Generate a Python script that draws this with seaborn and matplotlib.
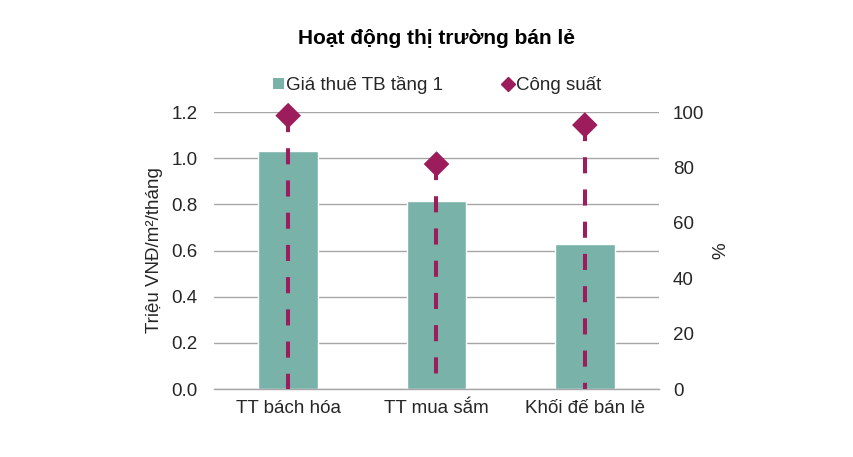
import matplotlib
matplotlib.use("Agg")
import matplotlib.pyplot as plt
import seaborn as sns
import pandas as pd
from matplotlib.lines import Line2D
from matplotlib.patches import Patch

# data
categories = ["TT bách hóa", "TT mua sắm", "Khối đế bán lẻ"]
rent = [1.03, 0.815, 0.63]          # Triệu VNĐ/m²/tháng
occupancy = [98.7, 81.2, 95.3]      # %

left_ticks = [0.0, 0.2, 0.4, 0.6, 0.8, 1.0, 1.2]
right_ticks = [0, 20, 40, 60, 80, 100]

title = "Hoạt động thị trường bán lẻ"
ylabel_left = "Triệu VNĐ/m²/tháng"
ylabel_right = "%"
legend_labels = ["Giá thuê TB tầng 1", "Công suất"]

TEAL = "#79B2A8"
MAGENTA = "#9C1C5C"
GRID = "#A6A6A6"
TEXT = "#262626"
FS = 13.5

sns.set_theme(style="white")
plt.rcParams["font.family"] = ["Liberation Sans", "DejaVu Sans"]

df = pd.DataFrame({"cat": categories, "rent": rent, "occ": occupancy})

fig = plt.figure(figsize=(8.54, 4.57), dpi=100)
ax = fig.add_axes([214 / 854, 1 - 389 / 457, 445 / 854, 277 / 457])

sns.barplot(data=df, x="cat", y="rent", color=TEAL, width=0.4,
            saturation=1, ax=ax, zorder=2)
ax.set_xlim(-0.5, 2.5)
ax.set_ylim(0, 1.2)
ax.set_yticks(left_ticks)
ax.set_yticklabels([f"{t:.1f}" for t in left_ticks])
ax.yaxis.grid(True, color=GRID, linewidth=1.0, zorder=0)
ax.set_axisbelow(True)
for s in ["left", "right", "top"]:
    ax.spines[s].set_visible(False)
ax.spines["bottom"].set_color(GRID)
ax.spines["bottom"].set_linewidth(1.0)
ax.set_xlabel("")
ax.set_ylabel(ylabel_left, fontsize=FS, color=TEXT, labelpad=6)
ax.tick_params(axis="y", length=0, pad=12, labelsize=FS, labelcolor=TEXT)
ax.tick_params(axis="x", which="major", length=0, pad=8, labelsize=FS,
               labelcolor=TEXT)
ax.set_xticks([-0.5, 0.5, 1.5, 2.5], minor=True)
ax.tick_params(axis="x", which="minor", length=5, color=GRID, width=1.0)

ax2 = ax.twinx()
ax2.set_ylim(0, 100)
ax2.set_yticks(right_ticks)
for i, v in enumerate(occupancy):
    ax2.plot([i, i], [v, 0], color=MAGENTA, linewidth=2.9,
             linestyle=(0, (4, 4)), solid_capstyle="butt",
             dash_capstyle="butt", zorder=3)
sns.scatterplot(x=list(range(len(categories))), y=occupancy, marker="D",
                s=170, color=MAGENTA, edgecolor="none", ax=ax2, zorder=4,
                clip_on=False)
for s in ["left", "right", "top", "bottom"]:
    ax2.spines[s].set_visible(False)
ax2.tick_params(axis="y", length=0, pad=10, labelsize=FS, labelcolor=TEXT)
ax2.set_ylabel(ylabel_right, fontsize=FS, color=TEXT, labelpad=6)
ax2.set_xlim(-0.5, 2.5)

handles = [
    Patch(facecolor=TEAL, edgecolor="none"),
    Line2D([], [], marker="D", color=MAGENTA, linestyle="none", markersize=7),
]
fig.legend(handles, legend_labels, loc="center", bbox_to_anchor=(437 / 854, 1 - 85 / 457),
           ncol=2, frameon=False, fontsize=FS, handlelength=0.55, handleheight=0.55,
           handletextpad=0.15, columnspacing=3.15, labelcolor=TEXT)

fig.text(437 / 854, 1 - 38 / 457, title, ha="center", va="center",
         fontsize=15, fontweight="bold", color="black")

fig.savefig("out.png", dpi=100)
